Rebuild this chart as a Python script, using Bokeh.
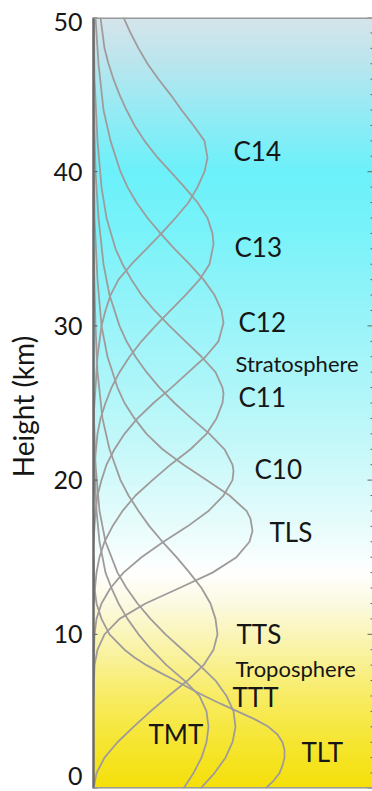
from bokeh.plotting import figure
from bokeh.models import Range1d, FixedTicker, Span
from bokeh.embed import file_html
from bokeh.resources import INLINE
from bokeh.core.properties import value
import numpy as np

# ---- weighting-function curves: height (km) and relative weight ----
TLT_h = [0, 0.5, 1, 1.5, 2, 2.5, 3, 3.5, 4, 4.5, 5, 5.5, 6, 6.5, 7, 7.5, 8, 8.5, 9, 10, 11, 12, 13, 15]
TLT_w = [172, 180, 186, 189, 191, 191, 189, 184, 175, 161, 144, 127, 111, 96, 82, 67, 53, 41, 31, 16, 8, 3, 1, 0]

TMT_h = [0, 1, 2, 3, 4, 5, 6, 7, 8, 9, 10, 11, 12, 13, 14, 16, 18, 21, 25]
TMT_w = [90, 100, 108, 113, 115, 113, 106, 91, 73, 58, 45, 34, 25, 18, 12, 6, 3, 1, 0]

TTT_h = [0, 1, 2, 3, 4, 5, 6, 7, 8, 9, 10, 11, 12, 13, 14, 16, 18, 21, 25]
TTT_w = [107, 121, 132, 139, 142, 140, 133, 122, 106, 89, 72, 57, 44, 33, 24, 12, 6, 2, 0]

TTS_h = [0, 1, 2, 3, 4, 5, 6, 7, 8, 9, 10, 11, 12, 13, 14, 15, 16, 17, 18, 19, 20, 22, 24, 27, 30, 35]
TTS_w = [0, 3, 11, 24, 40, 57, 75, 94, 110, 120, 124, 122, 117, 108, 96, 83, 69, 56, 45, 35, 27, 16, 9, 4, 2, 0]

TLS_h = [6, 8, 9, 10, 11, 12, 13, 14, 15, 16, 16.7, 17.5, 18, 19, 20, 21, 22, 23, 24, 25, 26, 28, 30, 33, 37, 42]
TLS_w = [0, 1, 4, 11, 26, 52, 86, 119, 143, 156, 159, 157, 153, 136, 113, 90, 69, 53, 41, 31, 24, 14, 8, 4, 1, 0]

C10_h = [8, 10, 11, 12, 13, 14, 15, 16, 17, 18, 19, 20, 20.6, 21, 22, 23, 24, 25, 26, 27, 28, 29, 30, 32, 34, 37, 40, 45]
C10_w = [0, 1, 3, 8, 17, 30, 48, 70, 94, 115, 130, 139, 140, 139, 131, 116, 98, 81, 66, 53, 42, 33, 26, 16, 10, 5, 2, 0]

C11_h = [12, 14, 15, 16, 17, 18, 19, 20, 21, 22, 23, 24, 25, 25.6, 26, 27, 28, 29, 30, 31, 32, 33, 34, 35, 37, 39, 42, 46, 50]
C11_w = [0, 3, 6, 11, 19, 29, 42, 59, 77, 97, 113, 123, 129, 130, 129, 122, 108, 92, 76, 61, 48, 38, 29, 22, 13, 8, 4, 1, 0]

C12_h = [16, 18, 19, 20, 21, 22, 23, 24, 25, 26, 27, 28, 29, 30.2, 31, 32, 33, 34, 35, 36, 37, 38, 39, 40, 42, 44, 47, 50]
C12_w = [0, 2, 4, 8, 13, 21, 31, 44, 60, 78, 95, 112, 125, 130, 128, 121, 110, 96, 81, 67, 54, 43, 34, 27, 17, 10, 5, 2]

C13_h = [19, 21, 23, 24, 25, 26, 27, 28, 29, 30, 31, 32, 33, 34, 35.3, 36, 37, 38, 39, 40, 41, 42, 43, 44, 45, 46, 47, 48, 50]
C13_w = [0, 1, 4, 7, 12, 18, 26, 36, 48, 62, 77, 92, 106, 116, 120, 119, 114, 104, 91, 77, 63, 51, 41, 33, 26, 20, 15, 11, 7]

C14_h = [24, 26, 28, 30, 31, 32, 33, 34, 35, 36, 37, 38, 39, 40, 40.9, 42, 43, 44, 45, 46, 47, 48, 49, 50]
C14_w = [0, 2, 4, 8, 12, 17, 25, 38, 53, 68, 82, 95, 104, 111, 114, 111, 100, 88, 77, 65, 54, 45, 37, 30]

# ---- labels (x = left edge, h = vertical centre of the capitals) ----
BIG_text = ["C14", "C13", "C12", "C11", "C10", "TLS", "TTS", "TTT", "TMT", "TLT"]
BIG_x = [140, 141, 145, 145, 161, 176, 143, 139, 55, 208]
BIG_h = [41.31, 35.10, 30.24, 25.38, 20.73, 16.62, 10.03, 5.92, 3.55, 2.35]

LAYER_text = ["Stratosphere", "Troposphere"]
LAYER_x = [142, 142]
LAYER_h = [27.55, 7.75]

Y_TICKS = [0, 10, 20, 30, 40, 50]
Y_TICK_LABELS = ["0", "10", "20", "30", "40", "50"]
# the end labels sit just inside the frame, as in the reference
Y_LABEL_POS = [0.8, 10, 20, 30, 40, 49.7]
Y_MINOR = list(range(0, 51))
Y_LABEL = "Height  (km)"

# background colour stops (height km, r, g, b)
BG_h = [0, 3, 6, 9, 12, 14, 17, 21, 26, 31, 36, 40, 44, 47, 50]
BG_r = [245, 246, 248, 250, 252, 255, 232, 205, 175, 150, 122, 108, 150, 185, 215]
BG_g = [224, 230, 236, 243, 250, 255, 252, 249, 246, 244, 243, 241, 235, 230, 228]
BG_b = [10, 50, 100, 165, 225, 255, 252, 250, 249, 249, 250, 250, 245, 238, 235]

W, H = 372, 791
LEFT, TOP, BOTTOM = 93, 17, 3
X_MAX = W - LEFT          # one data unit = one pixel across the frame
FONT = "Lato"
TXT = "#161616"

p = figure(width=W, height=H, x_range=Range1d(0, X_MAX), y_range=Range1d(0, 50),
           output_backend="svg", toolbar_location=None, x_axis_location=None,
           min_border_left=LEFT, min_border_right=0, min_border_top=TOP, min_border_bottom=BOTTOM)
p.grid.visible = False
p.background_fill_color = "white"
p.border_fill_color = "white"
p.outline_line_color = None

# background gradient as thin strips
step = 0.2
bots = np.arange(0, 50, step)
mids = bots + step / 2
rr = np.interp(mids, BG_h, BG_r)
gg = np.interp(mids, BG_h, BG_g)
bb = np.interp(mids, BG_h, BG_b)
cols = ["#%02x%02x%02x" % (int(r), int(g), int(b)) for r, g, b in zip(rr, gg, bb)]
p.quad(left=0, right=X_MAX, bottom=bots, top=np.minimum(bots + step * 1.6, 50),
       fill_color=cols, line_color=None)

curves = [(TLT_h, TLT_w), (TMT_h, TMT_w), (TTT_h, TTT_w), (TTS_h, TTS_w), (TLS_h, TLS_w),
          (C10_h, C10_w), (C11_h, C11_w), (C12_h, C12_w), (C13_h, C13_w), (C14_h, C14_w)]
for hh, ww in curves:
    p.line(ww, hh, line_color="#a09b9b", line_width=1.8, line_join="round")

p.text(BIG_x, BIG_h, text=BIG_text, text_font=value(FONT), text_font_size="26px",
       text_color=TXT, text_baseline="middle", text_align="left")
p.text(LAYER_x, LAYER_h, text=LAYER_text, text_font=value(FONT), text_font_size="22px",
       text_color=TXT, text_baseline="middle", text_align="left")

# inward tick marks on the right edge (minor every km, major every 10 km)
minor_len = [5 if t in Y_TICKS else 2 for t in Y_MINOR]
p.segment(x0=[X_MAX - L for L in minor_len], x1=X_MAX, y0=Y_MINOR, y1=Y_MINOR,
          line_color="#666666", line_width=1)
# small inward major ticks on the left axis
p.segment(x0=0, x1=4, y0=Y_TICKS, y1=Y_TICKS, line_color="#555555", line_width=1)

# top and bottom frame edges
p.add_layout(Span(location=50, dimension="width", line_color="#9a9a9a", line_width=3))
p.add_layout(Span(location=0, dimension="width", line_color="#9a9a9a", line_width=3))

ax = p.yaxis[0]
ax.ticker = FixedTicker(ticks=Y_LABEL_POS)
ax.major_label_overrides = {pos: lab for pos, lab in zip(Y_LABEL_POS, Y_TICK_LABELS)}
ax.axis_label = Y_LABEL
ax.axis_label_text_font = FONT
ax.axis_label_text_font_size = "28px"
ax.axis_label_text_font_style = "normal"
ax.axis_label_text_color = TXT
ax.axis_label_standoff = 10
ax.major_label_text_font = FONT
ax.major_label_text_font_size = "25px"
ax.major_label_text_color = TXT
ax.major_label_standoff = 11
ax.major_tick_in = 0
ax.major_tick_out = 0
ax.major_tick_line_color = None
ax.minor_tick_line_color = None
ax.axis_line_color = "#6a6a6a"
ax.axis_line_width = 2.5

open("out.html", "w").write(file_html(p, INLINE))
